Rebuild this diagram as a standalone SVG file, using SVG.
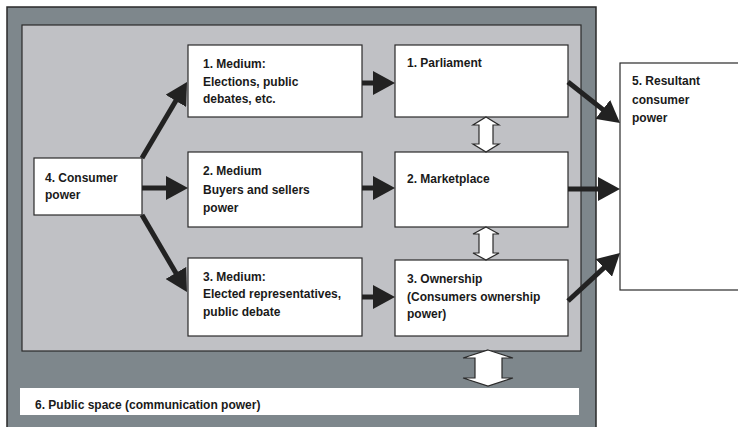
<svg xmlns="http://www.w3.org/2000/svg" width="738" height="427" viewBox="0 0 738 427">
<style>
.box{fill:#fff;stroke:#2a2a2a;stroke-width:1.2}
.t{font-family:"Liberation Sans",Arial,sans-serif;font-weight:bold;font-size:12px;fill:#1a1a1a}
.arr{stroke:#222;stroke-width:5;fill:none;marker-end:url(#ah)}
.dbl{fill:#fff;stroke:#2a2a2a;stroke-width:1.2}
</style>
<defs>
<marker id="ah" markerUnits="userSpaceOnUse" markerWidth="22" markerHeight="24" refX="10" refY="12" orient="auto">
<path d="M0,0 L22,12 L0,24 z" fill="#222"/>
</marker>
</defs>
<g id="frame">
<rect x="7" y="7" width="589" height="430" fill="#7e878c" stroke="#2a2a2a" stroke-width="1.5"/>
<rect x="22" y="25" width="559" height="326" fill="#c0c1c5" stroke="#2a2a2a" stroke-width="1.2"/>
</g>
<g id="n6">
<rect x="20" y="388" width="559" height="27" fill="#fff"/>
<text class="t" x="35" y="409">6. Public space (communication power)</text>
</g>
<g id="n4">
<rect class="box" x="34" y="158" width="108" height="57"/>
<text class="t" x="45" y="182">4. Consumer</text>
<text class="t" x="45" y="199">power</text>
</g>
<g id="m1">
<rect class="box" x="188" y="45" width="174" height="72"/>
<text class="t" x="203" y="68">1. Medium:</text>
<text class="t" x="203" y="86">Elections,  public</text>
<text class="t" x="203" y="103">debates, etc.</text>
</g>
<g id="m2">
<rect class="box" x="188" y="152" width="174" height="75"/>
<text class="t" x="203" y="175">2. Medium</text>
<text class="t" x="203" y="194">Buyers and sellers</text>
<text class="t" x="203" y="212">power</text>
</g>
<g id="m3">
<rect class="box" x="188" y="258" width="174" height="78"/>
<text class="t" x="203" y="281">3. Medium:</text>
<text class="t" x="203" y="298">Elected representatives,</text>
<text class="t" x="203" y="316">public debate</text>
</g>
<g id="p1">
<rect class="box" x="395" y="45" width="173" height="72"/>
<text class="t" x="407" y="67">1. Parliament</text>
</g>
<g id="p2">
<rect class="box" x="395" y="152" width="173" height="75"/>
<text class="t" x="407" y="183">2. Marketplace</text>
</g>
<g id="p3">
<rect class="box" x="395" y="260" width="173" height="76"/>
<text class="t" x="407" y="283">3. Ownership</text>
<text class="t" x="407" y="301">(Consumers ownership</text>
<text class="t" x="407" y="318">power)</text>
</g>
<g id="n5">
<rect class="box" x="620" y="63" width="130" height="227"/>
<text class="t" x="632" y="85">5. Resultant</text>
<text class="t" x="632" y="104">consumer</text>
<text class="t" x="632" y="122">power</text>
</g>
<g id="connectors">
<line class="arr" x1="142" y1="158" x2="180.9" y2="92.3"/>
<line class="arr" x1="142" y1="188" x2="176" y2="188"/>
<line class="arr" x1="142" y1="215" x2="180.9" y2="281.6"/>
<line class="arr" x1="362" y1="83" x2="383" y2="83"/>
<line class="arr" x1="362" y1="188" x2="383" y2="188"/>
<line class="arr" x1="362" y1="297" x2="383" y2="297"/>
<line class="arr" x1="568" y1="82" x2="610.6" y2="115.6"/>
<line class="arr" x1="568" y1="189" x2="608" y2="189"/>
<line class="arr" x1="568" y1="301" x2="611.2" y2="261.1"/>
<path class="dbl" d="M486,117 L499,125 L493,125 L493,144 L499,144 L486,152 L473,144 L479,144 L479,125 L473,125 Z"/>
<path class="dbl" d="M486,227 L499,234 L493,234 L493,253 L499,253 L486,260 L473,253 L479,253 L479,234 L473,234 Z"/>
<path class="dbl" d="M488,350 L513,358 L502,358 L502,378 L513,378 L488,386 L463,378 L475,378 L475,358 L463,358 Z"/>
</g>
</svg>
